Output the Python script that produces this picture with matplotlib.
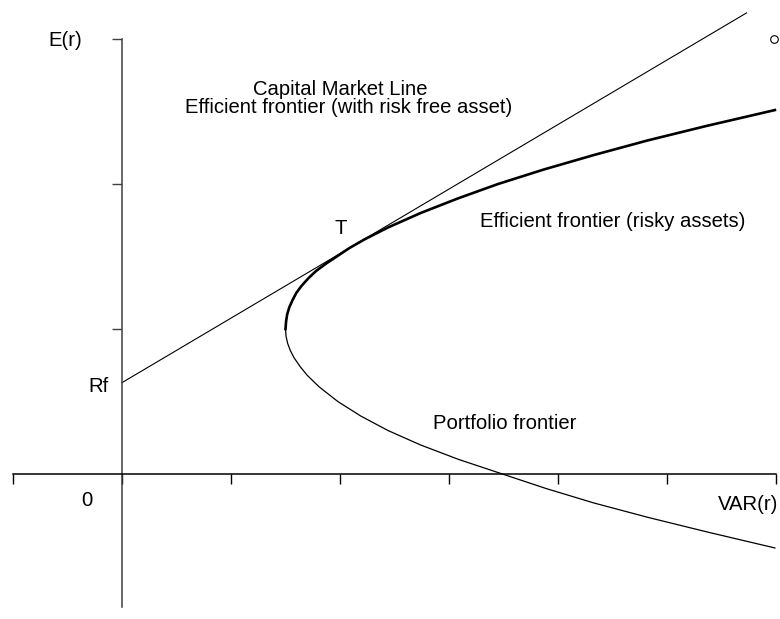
import matplotlib
matplotlib.use("Agg")
import matplotlib.pyplot as plt

plt.rcParams['font.family'] = ['Liberation Sans', 'DejaVu Sans']

# Mean-variance frontier, upper (efficient) half, VAR(r) vs E(r)
upper_er = [1.00, 1.05, 1.10, 1.15, 1.20, 1.25, 1.30, 1.35, 1.40, 1.45, 1.50,
            1.56, 1.62, 1.70, 1.80, 1.90, 2.00, 2.10, 2.20, 2.30, 2.40, 2.51]
upper_var = [1.50, 1.505, 1.515, 1.535, 1.565, 1.60, 1.65, 1.71, 1.78, 1.87, 1.97,
             2.09, 2.23, 2.44, 2.74, 3.08, 3.45, 3.87, 4.33, 4.82, 5.36, 5.99]

# Lower (inefficient) half of the portfolio frontier
lower_er = [1.00, 0.95, 0.90, 0.85, 0.80, 0.74, 0.68, 0.60, 0.50, 0.40, 0.30,
            0.20, 0.10, 0.00, -0.10, -0.20, -0.30, -0.40, -0.51]
lower_var = [1.50, 1.505, 1.52, 1.545, 1.58, 1.635, 1.70, 1.81, 1.98, 2.19, 2.44,
             2.74, 3.09, 3.49, 3.89, 4.33, 4.83, 5.37, 5.99]

# Capital market line from the risk free rate through T
cml_var = [0.0, 5.73]
cml_er = [0.63, 3.18]

fig = plt.figure(figsize=(7.8, 6.19), dpi=100)
ax = fig.add_axes([0, 0, 1, 1])
ax.set_xlim(-122 / 109, 658 / 109)
ax.set_ylim(-145 / 145, 474 / 145)

# axes crossing at the origin
for side in ['top', 'right']:
    ax.spines[side].set_visible(False)
ax.spines['left'].set_position(('data', 0))
ax.spines['bottom'].set_position(('data', 0))
ax.spines['left'].set_bounds(-0.92, 3.0)
ax.spines['bottom'].set_bounds(-1, 6)
ax.spines['left'].set_color('#404040')
ax.spines['left'].set_linewidth(1.1)
ax.spines['bottom'].set_linewidth(1.1)
ax.set_xticks(range(-1, 7))
ax.set_yticks([1, 2, 3])
ax.set_xticklabels([])
ax.set_yticklabels([])
ax.tick_params(direction='out', length=7.2, width=1.0)
ax.tick_params(axis='y', color='#404040')
ax.patch.set_visible(False)

ax.plot(cml_var, cml_er, color='black', lw=0.8)
ax.plot(lower_var, lower_er, color='black', lw=0.9)
ax.plot(upper_var, upper_er, color='black', lw=1.9, solid_joinstyle='round')
ax.plot(5.98, 3.0, 'o', mfc='white', mec='black', ms=5.5, mew=0.8)

fs = 14.6
ax.text(-0.52, 2.99, 'E(r)', fontsize=fs, ha='center', va='center')
ax.text(-0.22, 0.60, 'Rf', fontsize=fs, ha='center', va='center')
ax.text(-0.32, -0.18, '0', fontsize=fs, ha='center', va='center')
ax.text(5.74, -0.21, 'VAR(r)', fontsize=fs, ha='center', va='center')
ax.text(2.0, 2.65, 'Capital Market Line', fontsize=fs, ha='center', va='center')
ax.text(2.08, 2.53, 'Efficient frontier (with risk free asset)', fontsize=fs,
        ha='center', va='center')
ax.text(2.01, 1.69, 'T', fontsize=fs, ha='center', va='center')
ax.text(4.50, 1.74, 'Efficient frontier (risky assets)', fontsize=fs,
        ha='center', va='center')
ax.text(3.51, 0.345, 'Portfolio frontier', fontsize=fs, ha='center', va='center')

fig.savefig('out.png', dpi=100)
